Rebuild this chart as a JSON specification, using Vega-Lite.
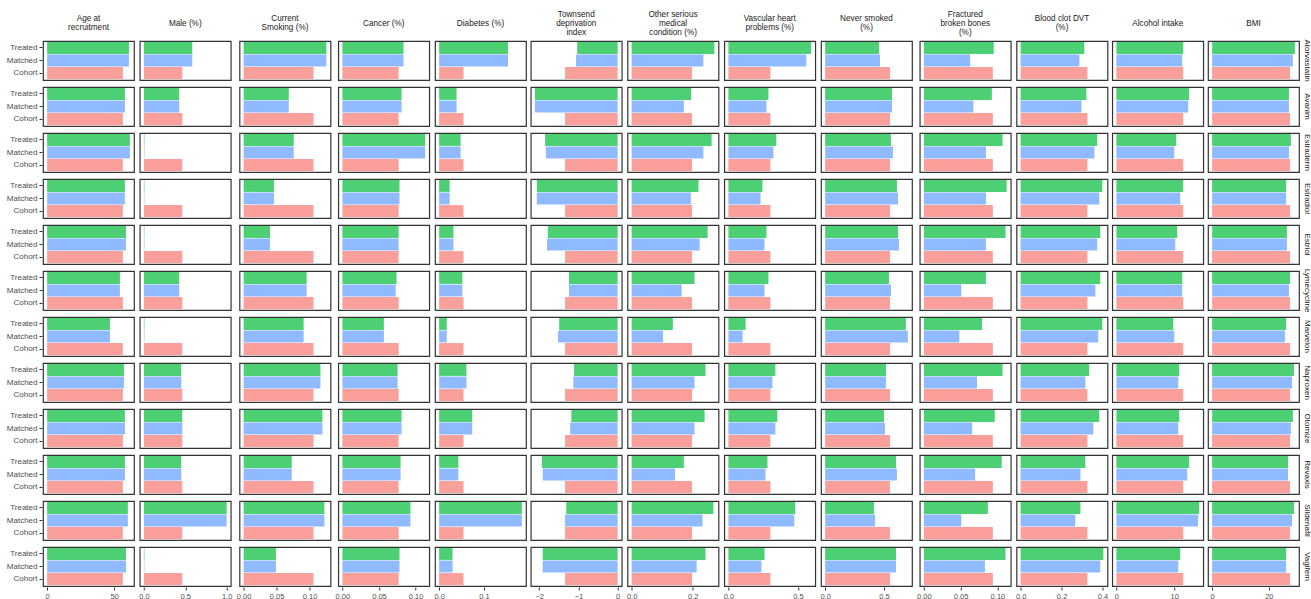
{
  "$schema": "https://vega.github.io/schema/vega-lite/v6.json",
  "background": "white",
  "padding": {"left": 6, "top": 9, "right": 0, "bottom": 0},
  "spacing": 2.75,
  "config": {
    "font": "Liberation Sans",
    "view": {"stroke": "#333333", "strokeWidth": 1.2},
    "axis": {"labelFont": "Liberation Sans", "labelFontSize": 7.5, "labelColor": "#4D4D4D", "tickColor": "#333333", "tickSize": 3, "domain": false, "grid": false, "labelPadding": 2},
    "header": {"labelFont": "Liberation Sans", "labelFontSize": 8.2, "labelColor": "#1A1A1A", "labelLineHeight": 4.5, "labelPadding": 3}
  },
  "data": {"values": [
    {"drug": "Atorvastatin", "group": "Treated", "age": 60.9, "male": 0.585, "smoking": 0.1255, "cancer": 0.0835, "diabetes": 0.154, "townsend": -1.03, "other": 0.271, "vascular": 0.595, "never": 0.458, "fractured": 0.095, "clot": 0.311, "alcohol": 11.54, "bmi": 29.2},
    {"drug": "Atorvastatin", "group": "Matched", "age": 60.9, "male": 0.585, "smoking": 0.1255, "cancer": 0.0835, "diabetes": 0.154, "townsend": -1.06, "other": 0.235, "vascular": 0.56, "never": 0.466, "fractured": 0.063, "clot": 0.287, "alcohol": 11.37, "bmi": 28.5},
    {"drug": "Atorvastatin", "group": "Cohort", "age": 56.4, "male": 0.464, "smoking": 0.106, "cancer": 0.0768, "diabetes": 0.0544, "townsend": -1.34, "other": 0.198, "vascular": 0.302, "never": 0.551, "fractured": 0.0938, "clot": 0.326, "alcohol": 11.54, "bmi": 27.5},
    {"drug": "Avanim", "group": "Treated", "age": 57.9, "male": 0.427, "smoking": 0.0685, "cancer": 0.0808, "diabetes": 0.039, "townsend": -2.11, "other": 0.195, "vascular": 0.288, "never": 0.568, "fractured": 0.0924, "clot": 0.321, "alcohol": 12.57, "bmi": 27.1},
    {"drug": "Avanim", "group": "Matched", "age": 57.9, "male": 0.427, "smoking": 0.0685, "cancer": 0.0808, "diabetes": 0.039, "townsend": -2.11, "other": 0.171, "vascular": 0.274, "never": 0.568, "fractured": 0.0674, "clot": 0.297, "alcohol": 12.4, "bmi": 27.1},
    {"drug": "Avanim", "group": "Cohort", "age": 56.4, "male": 0.464, "smoking": 0.106, "cancer": 0.0768, "diabetes": 0.0544, "townsend": -1.34, "other": 0.198, "vascular": 0.302, "never": 0.551, "fractured": 0.0938, "clot": 0.326, "alcohol": 11.54, "bmi": 27.5},
    {"drug": "Estraderm", "group": "Treated", "age": 61.6, "male": 0.006, "smoking": 0.076, "cancer": 0.113, "diabetes": 0.048, "townsend": -1.85, "other": 0.262, "vascular": 0.345, "never": 0.559, "fractured": 0.107, "clot": 0.374, "alcohol": 10.34, "bmi": 27.8},
    {"drug": "Estraderm", "group": "Matched", "age": 61.6, "male": 0.006, "smoking": 0.076, "cancer": 0.113, "diabetes": 0.048, "townsend": -1.83, "other": 0.235, "vascular": 0.324, "never": 0.576, "fractured": 0.0844, "clot": 0.36, "alcohol": 10.0, "bmi": 27.1},
    {"drug": "Estraderm", "group": "Cohort", "age": 56.4, "male": 0.464, "smoking": 0.106, "cancer": 0.0768, "diabetes": 0.0544, "townsend": -1.34, "other": 0.198, "vascular": 0.302, "never": 0.551, "fractured": 0.0938, "clot": 0.326, "alcohol": 11.54, "bmi": 27.5},
    {"drug": "Estradiol", "group": "Treated", "age": 57.9, "male": 0.006, "smoking": 0.046, "cancer": 0.078, "diabetes": 0.0235, "townsend": -2.06, "other": 0.219, "vascular": 0.245, "never": 0.61, "fractured": 0.1125, "clot": 0.399, "alcohol": 11.54, "bmi": 26.1},
    {"drug": "Estradiol", "group": "Matched", "age": 57.9, "male": 0.006, "smoking": 0.046, "cancer": 0.078, "diabetes": 0.0235, "townsend": -2.06, "other": 0.194, "vascular": 0.231, "never": 0.619, "fractured": 0.0844, "clot": 0.384, "alcohol": 11.03, "bmi": 26.1},
    {"drug": "Estradiol", "group": "Cohort", "age": 56.4, "male": 0.464, "smoking": 0.106, "cancer": 0.0768, "diabetes": 0.0544, "townsend": -1.34, "other": 0.198, "vascular": 0.302, "never": 0.551, "fractured": 0.0938, "clot": 0.326, "alcohol": 11.54, "bmi": 27.5},
    {"drug": "Estriol", "group": "Treated", "age": 58.7, "male": 0.006, "smoking": 0.04, "cancer": 0.0768, "diabetes": 0.032, "townsend": -1.78, "other": 0.249, "vascular": 0.274, "never": 0.619, "fractured": 0.111, "clot": 0.389, "alcohol": 10.51, "bmi": 26.4},
    {"drug": "Estriol", "group": "Matched", "age": 58.7, "male": 0.006, "smoking": 0.04, "cancer": 0.0768, "diabetes": 0.032, "townsend": -1.8, "other": 0.223, "vascular": 0.26, "never": 0.627, "fractured": 0.0844, "clot": 0.374, "alcohol": 10.17, "bmi": 26.4},
    {"drug": "Estriol", "group": "Cohort", "age": 56.4, "male": 0.464, "smoking": 0.106, "cancer": 0.0768, "diabetes": 0.0544, "townsend": -1.34, "other": 0.198, "vascular": 0.302, "never": 0.551, "fractured": 0.0938, "clot": 0.326, "alcohol": 11.54, "bmi": 27.5},
    {"drug": "Lymecycline", "group": "Treated", "age": 54.2, "male": 0.427, "smoking": 0.0955, "cancer": 0.074, "diabetes": 0.052, "townsend": -1.24, "other": 0.206, "vascular": 0.288, "never": 0.542, "fractured": 0.0844, "clot": 0.389, "alcohol": 11.37, "bmi": 27.5},
    {"drug": "Lymecycline", "group": "Matched", "age": 54.2, "male": 0.427, "smoking": 0.0955, "cancer": 0.0728, "diabetes": 0.052, "townsend": -1.24, "other": 0.164, "vascular": 0.26, "never": 0.559, "fractured": 0.0509, "clot": 0.365, "alcohol": 11.37, "bmi": 27.1},
    {"drug": "Lymecycline", "group": "Cohort", "age": 56.4, "male": 0.464, "smoking": 0.106, "cancer": 0.0768, "diabetes": 0.0544, "townsend": -1.34, "other": 0.198, "vascular": 0.302, "never": 0.551, "fractured": 0.0938, "clot": 0.326, "alcohol": 11.54, "bmi": 27.5},
    {"drug": "Marvelon", "group": "Treated", "age": 46.8, "male": 0.006, "smoking": 0.091, "cancer": 0.0567, "diabetes": 0.017, "townsend": -1.49, "other": 0.135, "vascular": 0.124, "never": 0.686, "fractured": 0.079, "clot": 0.399, "alcohol": 9.83, "bmi": 26.1},
    {"drug": "Marvelon", "group": "Matched", "age": 46.8, "male": 0.006, "smoking": 0.091, "cancer": 0.0567, "diabetes": 0.017, "townsend": -1.52, "other": 0.103, "vascular": 0.102, "never": 0.703, "fractured": 0.0482, "clot": 0.379, "alcohol": 10.0, "bmi": 25.7},
    {"drug": "Marvelon", "group": "Cohort", "age": 56.4, "male": 0.464, "smoking": 0.106, "cancer": 0.0768, "diabetes": 0.0544, "townsend": -1.34, "other": 0.198, "vascular": 0.302, "never": 0.551, "fractured": 0.0938, "clot": 0.326, "alcohol": 11.54, "bmi": 27.5},
    {"drug": "Naproxen", "group": "Treated", "age": 57.2, "male": 0.452, "smoking": 0.1165, "cancer": 0.0754, "diabetes": 0.061, "townsend": -1.11, "other": 0.242, "vascular": 0.338, "never": 0.517, "fractured": 0.107, "clot": 0.335, "alcohol": 10.86, "bmi": 28.9},
    {"drug": "Naproxen", "group": "Matched", "age": 57.2, "male": 0.452, "smoking": 0.1165, "cancer": 0.0754, "diabetes": 0.061, "townsend": -1.13, "other": 0.206, "vascular": 0.317, "never": 0.517, "fractured": 0.0723, "clot": 0.316, "alcohol": 10.69, "bmi": 28.2},
    {"drug": "Naproxen", "group": "Cohort", "age": 56.4, "male": 0.464, "smoking": 0.106, "cancer": 0.0768, "diabetes": 0.0544, "townsend": -1.34, "other": 0.198, "vascular": 0.302, "never": 0.551, "fractured": 0.0938, "clot": 0.326, "alcohol": 11.54, "bmi": 27.5},
    {"drug": "Otomize", "group": "Treated", "age": 57.9, "male": 0.464, "smoking": 0.1195, "cancer": 0.0808, "diabetes": 0.074, "townsend": -1.18, "other": 0.239, "vascular": 0.352, "never": 0.5, "fractured": 0.0964, "clot": 0.384, "alcohol": 10.86, "bmi": 28.5},
    {"drug": "Otomize", "group": "Matched", "age": 57.9, "male": 0.464, "smoking": 0.1195, "cancer": 0.0808, "diabetes": 0.074, "townsend": -1.21, "other": 0.206, "vascular": 0.338, "never": 0.508, "fractured": 0.0656, "clot": 0.355, "alcohol": 10.69, "bmi": 27.8},
    {"drug": "Otomize", "group": "Cohort", "age": 56.4, "male": 0.464, "smoking": 0.106, "cancer": 0.0768, "diabetes": 0.0544, "townsend": -1.34, "other": 0.198, "vascular": 0.302, "never": 0.551, "fractured": 0.0938, "clot": 0.326, "alcohol": 11.54, "bmi": 27.5},
    {"drug": "Revaxis", "group": "Treated", "age": 57.9, "male": 0.452, "smoking": 0.073, "cancer": 0.0795, "diabetes": 0.043, "townsend": -1.93, "other": 0.171, "vascular": 0.281, "never": 0.602, "fractured": 0.1058, "clot": 0.316, "alcohol": 12.57, "bmi": 26.8},
    {"drug": "Revaxis", "group": "Matched", "age": 57.9, "male": 0.452, "smoking": 0.073, "cancer": 0.0795, "diabetes": 0.043, "townsend": -1.91, "other": 0.142, "vascular": 0.267, "never": 0.61, "fractured": 0.0696, "clot": 0.292, "alcohol": 12.23, "bmi": 26.8},
    {"drug": "Revaxis", "group": "Cohort", "age": 56.4, "male": 0.464, "smoking": 0.106, "cancer": 0.0768, "diabetes": 0.0544, "townsend": -1.34, "other": 0.198, "vascular": 0.302, "never": 0.551, "fractured": 0.0938, "clot": 0.326, "alcohol": 11.54, "bmi": 27.5},
    {"drug": "Sildenafil", "group": "Treated", "age": 60.1, "male": 1.0, "smoking": 0.1225, "cancer": 0.093, "diabetes": 0.185, "townsend": -1.31, "other": 0.268, "vascular": 0.481, "never": 0.415, "fractured": 0.087, "clot": 0.292, "alcohol": 14.29, "bmi": 28.9},
    {"drug": "Sildenafil", "group": "Matched", "age": 60.1, "male": 1.0, "smoking": 0.1225, "cancer": 0.093, "diabetes": 0.185, "townsend": -1.34, "other": 0.232, "vascular": 0.474, "never": 0.424, "fractured": 0.0509, "clot": 0.267, "alcohol": 14.11, "bmi": 28.2},
    {"drug": "Sildenafil", "group": "Cohort", "age": 56.4, "male": 0.464, "smoking": 0.106, "cancer": 0.0768, "diabetes": 0.0544, "townsend": -1.34, "other": 0.198, "vascular": 0.302, "never": 0.551, "fractured": 0.0938, "clot": 0.326, "alcohol": 11.54, "bmi": 27.5},
    {"drug": "Vagifem", "group": "Treated", "age": 58.7, "male": 0.006, "smoking": 0.049, "cancer": 0.078, "diabetes": 0.03, "townsend": -1.91, "other": 0.242, "vascular": 0.26, "never": 0.602, "fractured": 0.111, "clot": 0.404, "alcohol": 11.03, "bmi": 26.1},
    {"drug": "Vagifem", "group": "Matched", "age": 58.7, "male": 0.006, "smoking": 0.049, "cancer": 0.078, "diabetes": 0.03, "townsend": -1.91, "other": 0.213, "vascular": 0.238, "never": 0.602, "fractured": 0.083, "clot": 0.389, "alcohol": 10.69, "bmi": 26.1},
    {"drug": "Vagifem", "group": "Cohort", "age": 56.4, "male": 0.464, "smoking": 0.106, "cancer": 0.0768, "diabetes": 0.0544, "townsend": -1.34, "other": 0.198, "vascular": 0.302, "never": 0.551, "fractured": 0.0938, "clot": 0.326, "alcohol": 11.54, "bmi": 27.5}
  ]},
  "hconcat": [
    {
      "transform": [{"fold": ["age"], "as": ["var", "value"]}],
      "facet": {
        "row": {"field": "drug", "type": "nominal", "header": {"labels": false, "title": null}},
        "column": {"field": "var", "type": "nominal", "header": {"title": null, "labelExpr": "['\u200b', 'Age at', '\u200b', 'recruitment', '\u200b']"}}
      },
      "spacing": {"row": 5, "column": 0},
      "spec": {
        "width": 91, "height": 39,
        "mark": {"type": "bar"},
        "encoding": {
          "x": {"field": "value", "type": "quantitative", "scale": {"domain": [-3.08, 64.68], "nice": false, "zero": false}, "axis": {"values": [0, 50], "format": "d", "title": null}},
          "y": {"field": "group", "type": "nominal", "sort": ["Treated", "Matched", "Cohort"], "scale": {"paddingInner": 0.05, "paddingOuter": 0.08}, "axis": {"title": null, "labelFontSize": 8, "labelColor": "#4D4D4D", "tickSize": 3, "labelPadding": 2}},
          "color": {"field": "group", "type": "nominal", "scale": {"domain": ["Treated", "Matched", "Cohort"], "range": ["#4DCF74", "#90BAFF", "#FA9F99"]}, "legend": null}
        }
      }
    },
    {
      "transform": [{"fold": ["male"], "as": ["var", "value"]}],
      "facet": {
        "row": {"field": "drug", "type": "nominal", "header": {"labels": false, "title": null}},
        "column": {"field": "var", "type": "nominal", "header": {"title": null, "labelExpr": "['\u200b', '\u200b', 'Male (%)', '\u200b', '\u200b']"}}
      },
      "spacing": {"row": 5, "column": 0},
      "spec": {
        "width": 91, "height": 39,
        "mark": {"type": "bar"},
        "encoding": {
          "x": {"field": "value", "type": "quantitative", "scale": {"domain": [-0.05, 1.05], "nice": false, "zero": false}, "axis": {"values": [0, 0.5, 1], "format": ".1f", "title": null}},
          "y": {"field": "group", "type": "nominal", "sort": ["Treated", "Matched", "Cohort"], "scale": {"paddingInner": 0.05, "paddingOuter": 0.08}, "axis": null},
          "color": {"field": "group", "type": "nominal", "scale": {"domain": ["Treated", "Matched", "Cohort"], "range": ["#4DCF74", "#90BAFF", "#FA9F99"]}, "legend": null}
        }
      }
    },
    {
      "transform": [{"fold": ["smoking"], "as": ["var", "value"]}],
      "facet": {
        "row": {"field": "drug", "type": "nominal", "header": {"labels": false, "title": null}},
        "column": {"field": "var", "type": "nominal", "header": {"title": null, "labelExpr": "['\u200b', 'Current', '\u200b', 'Smoking (%)', '\u200b']"}}
      },
      "spacing": {"row": 5, "column": 0},
      "spec": {
        "width": 91, "height": 39,
        "mark": {"type": "bar"},
        "encoding": {
          "x": {"field": "value", "type": "quantitative", "scale": {"domain": [-0.00628, 0.13178], "nice": false, "zero": false}, "axis": {"values": [0, 0.05, 0.1], "format": ".2f", "title": null}},
          "y": {"field": "group", "type": "nominal", "sort": ["Treated", "Matched", "Cohort"], "scale": {"paddingInner": 0.05, "paddingOuter": 0.08}, "axis": null},
          "color": {"field": "group", "type": "nominal", "scale": {"domain": ["Treated", "Matched", "Cohort"], "range": ["#4DCF74", "#90BAFF", "#FA9F99"]}, "legend": null}
        }
      }
    },
    {
      "transform": [{"fold": ["cancer"], "as": ["var", "value"]}],
      "facet": {
        "row": {"field": "drug", "type": "nominal", "header": {"labels": false, "title": null}},
        "column": {"field": "var", "type": "nominal", "header": {"title": null, "labelExpr": "['\u200b', '\u200b', 'Cancer (%)', '\u200b', '\u200b']"}}
      },
      "spacing": {"row": 5, "column": 0},
      "spec": {
        "width": 91, "height": 39,
        "mark": {"type": "bar"},
        "encoding": {
          "x": {"field": "value", "type": "quantitative", "scale": {"domain": [-0.00565, 0.11865], "nice": false, "zero": false}, "axis": {"values": [0, 0.05, 0.1], "format": ".2f", "title": null}},
          "y": {"field": "group", "type": "nominal", "sort": ["Treated", "Matched", "Cohort"], "scale": {"paddingInner": 0.05, "paddingOuter": 0.08}, "axis": null},
          "color": {"field": "group", "type": "nominal", "scale": {"domain": ["Treated", "Matched", "Cohort"], "range": ["#4DCF74", "#90BAFF", "#FA9F99"]}, "legend": null}
        }
      }
    },
    {
      "transform": [{"fold": ["diabetes"], "as": ["var", "value"]}],
      "facet": {
        "row": {"field": "drug", "type": "nominal", "header": {"labels": false, "title": null}},
        "column": {"field": "var", "type": "nominal", "header": {"title": null, "labelExpr": "['\u200b', '\u200b', 'Diabetes (%)', '\u200b', '\u200b']"}}
      },
      "spacing": {"row": 5, "column": 0},
      "spec": {
        "width": 91, "height": 39,
        "mark": {"type": "bar"},
        "encoding": {
          "x": {"field": "value", "type": "quantitative", "scale": {"domain": [-0.00925, 0.19425], "nice": false, "zero": false}, "axis": {"values": [0, 0.1], "format": ".1f", "title": null}},
          "y": {"field": "group", "type": "nominal", "sort": ["Treated", "Matched", "Cohort"], "scale": {"paddingInner": 0.05, "paddingOuter": 0.08}, "axis": null},
          "color": {"field": "group", "type": "nominal", "scale": {"domain": ["Treated", "Matched", "Cohort"], "range": ["#4DCF74", "#90BAFF", "#FA9F99"]}, "legend": null}
        }
      }
    },
    {
      "transform": [{"fold": ["townsend"], "as": ["var", "value"]}],
      "facet": {
        "row": {"field": "drug", "type": "nominal", "header": {"labels": false, "title": null}},
        "column": {"field": "var", "type": "nominal", "header": {"title": null, "labelExpr": "['Townsend', '\u200b', 'deprivation', '\u200b', 'index']"}}
      },
      "spacing": {"row": 5, "column": 0},
      "spec": {
        "width": 91, "height": 39,
        "mark": {"type": "bar"},
        "encoding": {
          "x": {"field": "value", "type": "quantitative", "scale": {"domain": [-2.2155, 0.1055], "nice": false, "zero": false}, "axis": {"values": [-2, -1, 0], "format": "d", "title": null}},
          "y": {"field": "group", "type": "nominal", "sort": ["Treated", "Matched", "Cohort"], "scale": {"paddingInner": 0.05, "paddingOuter": 0.08}, "axis": null},
          "color": {"field": "group", "type": "nominal", "scale": {"domain": ["Treated", "Matched", "Cohort"], "range": ["#4DCF74", "#90BAFF", "#FA9F99"]}, "legend": null}
        }
      }
    },
    {
      "transform": [{"fold": ["other"], "as": ["var", "value"]}],
      "facet": {
        "row": {"field": "drug", "type": "nominal", "header": {"labels": false, "title": null}},
        "column": {"field": "var", "type": "nominal", "header": {"title": null, "labelExpr": "['Other serious', '\u200b', 'medical', '\u200b', 'condition (%)']"}}
      },
      "spacing": {"row": 5, "column": 0},
      "spec": {
        "width": 91, "height": 39,
        "mark": {"type": "bar"},
        "encoding": {
          "x": {"field": "value", "type": "quantitative", "scale": {"domain": [-0.01355, 0.28455], "nice": false, "zero": false}, "axis": {"values": [0, 0.2], "format": ".1f", "title": null}},
          "y": {"field": "group", "type": "nominal", "sort": ["Treated", "Matched", "Cohort"], "scale": {"paddingInner": 0.05, "paddingOuter": 0.08}, "axis": null},
          "color": {"field": "group", "type": "nominal", "scale": {"domain": ["Treated", "Matched", "Cohort"], "range": ["#4DCF74", "#90BAFF", "#FA9F99"]}, "legend": null}
        }
      }
    },
    {
      "transform": [{"fold": ["vascular"], "as": ["var", "value"]}],
      "facet": {
        "row": {"field": "drug", "type": "nominal", "header": {"labels": false, "title": null}},
        "column": {"field": "var", "type": "nominal", "header": {"title": null, "labelExpr": "['\u200b', 'Vascular heart', '\u200b', 'problems (%)', '\u200b']"}}
      },
      "spacing": {"row": 5, "column": 0},
      "spec": {
        "width": 91, "height": 39,
        "mark": {"type": "bar"},
        "encoding": {
          "x": {"field": "value", "type": "quantitative", "scale": {"domain": [-0.02975, 0.62475], "nice": false, "zero": false}, "axis": {"values": [0, 0.5], "format": ".1f", "title": null}},
          "y": {"field": "group", "type": "nominal", "sort": ["Treated", "Matched", "Cohort"], "scale": {"paddingInner": 0.05, "paddingOuter": 0.08}, "axis": null},
          "color": {"field": "group", "type": "nominal", "scale": {"domain": ["Treated", "Matched", "Cohort"], "range": ["#4DCF74", "#90BAFF", "#FA9F99"]}, "legend": null}
        }
      }
    },
    {
      "transform": [{"fold": ["never"], "as": ["var", "value"]}],
      "facet": {
        "row": {"field": "drug", "type": "nominal", "header": {"labels": false, "title": null}},
        "column": {"field": "var", "type": "nominal", "header": {"title": null, "labelExpr": "['\u200b', 'Never smoked', '\u200b', '(%)', '\u200b']"}}
      },
      "spacing": {"row": 5, "column": 0},
      "spec": {
        "width": 91, "height": 39,
        "mark": {"type": "bar"},
        "encoding": {
          "x": {"field": "value", "type": "quantitative", "scale": {"domain": [-0.03515, 0.73815], "nice": false, "zero": false}, "axis": {"values": [0, 0.5], "format": ".1f", "title": null}},
          "y": {"field": "group", "type": "nominal", "sort": ["Treated", "Matched", "Cohort"], "scale": {"paddingInner": 0.05, "paddingOuter": 0.08}, "axis": null},
          "color": {"field": "group", "type": "nominal", "scale": {"domain": ["Treated", "Matched", "Cohort"], "range": ["#4DCF74", "#90BAFF", "#FA9F99"]}, "legend": null}
        }
      }
    },
    {
      "transform": [{"fold": ["fractured"], "as": ["var", "value"]}],
      "facet": {
        "row": {"field": "drug", "type": "nominal", "header": {"labels": false, "title": null}},
        "column": {"field": "var", "type": "nominal", "header": {"title": null, "labelExpr": "['Fractured', '\u200b', 'broken bones', '\u200b', '(%)']"}}
      },
      "spacing": {"row": 5, "column": 0},
      "spec": {
        "width": 91, "height": 39,
        "mark": {"type": "bar"},
        "encoding": {
          "x": {"field": "value", "type": "quantitative", "scale": {"domain": [-0.005625, 0.118125], "nice": false, "zero": false}, "axis": {"values": [0, 0.05, 0.1], "format": ".2f", "title": null}},
          "y": {"field": "group", "type": "nominal", "sort": ["Treated", "Matched", "Cohort"], "scale": {"paddingInner": 0.05, "paddingOuter": 0.08}, "axis": null},
          "color": {"field": "group", "type": "nominal", "scale": {"domain": ["Treated", "Matched", "Cohort"], "range": ["#4DCF74", "#90BAFF", "#FA9F99"]}, "legend": null}
        }
      }
    },
    {
      "transform": [{"fold": ["clot"], "as": ["var", "value"]}],
      "facet": {
        "row": {"field": "drug", "type": "nominal", "header": {"labels": false, "title": null}},
        "column": {"field": "var", "type": "nominal", "header": {"title": null, "labelExpr": "['\u200b', 'Blood clot DVT', '\u200b', '(%)', '\u200b']"}}
      },
      "spacing": {"row": 5, "column": 0},
      "spec": {
        "width": 91, "height": 39,
        "mark": {"type": "bar"},
        "encoding": {
          "x": {"field": "value", "type": "quantitative", "scale": {"domain": [-0.0202, 0.4242], "nice": false, "zero": false}, "axis": {"values": [0, 0.2, 0.4], "format": ".1f", "title": null}},
          "y": {"field": "group", "type": "nominal", "sort": ["Treated", "Matched", "Cohort"], "scale": {"paddingInner": 0.05, "paddingOuter": 0.08}, "axis": null},
          "color": {"field": "group", "type": "nominal", "scale": {"domain": ["Treated", "Matched", "Cohort"], "range": ["#4DCF74", "#90BAFF", "#FA9F99"]}, "legend": null}
        }
      }
    },
    {
      "transform": [{"fold": ["alcohol"], "as": ["var", "value"]}],
      "facet": {
        "row": {"field": "drug", "type": "nominal", "header": {"labels": false, "title": null}},
        "column": {"field": "var", "type": "nominal", "header": {"title": null, "labelExpr": "['\u200b', '\u200b', 'Alcohol intake', '\u200b', '\u200b']"}}
      },
      "spacing": {"row": 5, "column": 0},
      "spec": {
        "width": 91, "height": 39,
        "mark": {"type": "bar"},
        "encoding": {
          "x": {"field": "value", "type": "quantitative", "scale": {"domain": [-0.7145, 15.0045], "nice": false, "zero": false}, "axis": {"values": [0, 10], "format": "d", "title": null}},
          "y": {"field": "group", "type": "nominal", "sort": ["Treated", "Matched", "Cohort"], "scale": {"paddingInner": 0.05, "paddingOuter": 0.08}, "axis": null},
          "color": {"field": "group", "type": "nominal", "scale": {"domain": ["Treated", "Matched", "Cohort"], "range": ["#4DCF74", "#90BAFF", "#FA9F99"]}, "legend": null}
        }
      }
    },
    {
      "transform": [{"fold": ["bmi"], "as": ["var", "value"]}],
      "facet": {
        "row": {"field": "drug", "type": "nominal", "header": {"title": null, "labelOrient": "right", "labelAngle": 90, "labelPadding": 3, "labelFontSize": 8, "labelColor": "#1A1A1A", "labelLineHeight": 10}},
        "column": {"field": "var", "type": "nominal", "header": {"title": null, "labelExpr": "['\u200b', '\u200b', 'BMI', '\u200b', '\u200b']"}}
      },
      "spacing": {"row": 5, "column": 0},
      "spec": {
        "width": 91, "height": 39,
        "mark": {"type": "bar"},
        "encoding": {
          "x": {"field": "value", "type": "quantitative", "scale": {"domain": [-1.46, 30.66], "nice": false, "zero": false}, "axis": {"values": [0, 20], "format": "d", "title": null}},
          "y": {"field": "group", "type": "nominal", "sort": ["Treated", "Matched", "Cohort"], "scale": {"paddingInner": 0.05, "paddingOuter": 0.08}, "axis": null},
          "color": {"field": "group", "type": "nominal", "scale": {"domain": ["Treated", "Matched", "Cohort"], "range": ["#4DCF74", "#90BAFF", "#FA9F99"]}, "legend": null}
        }
      }
    }
  ]
}
